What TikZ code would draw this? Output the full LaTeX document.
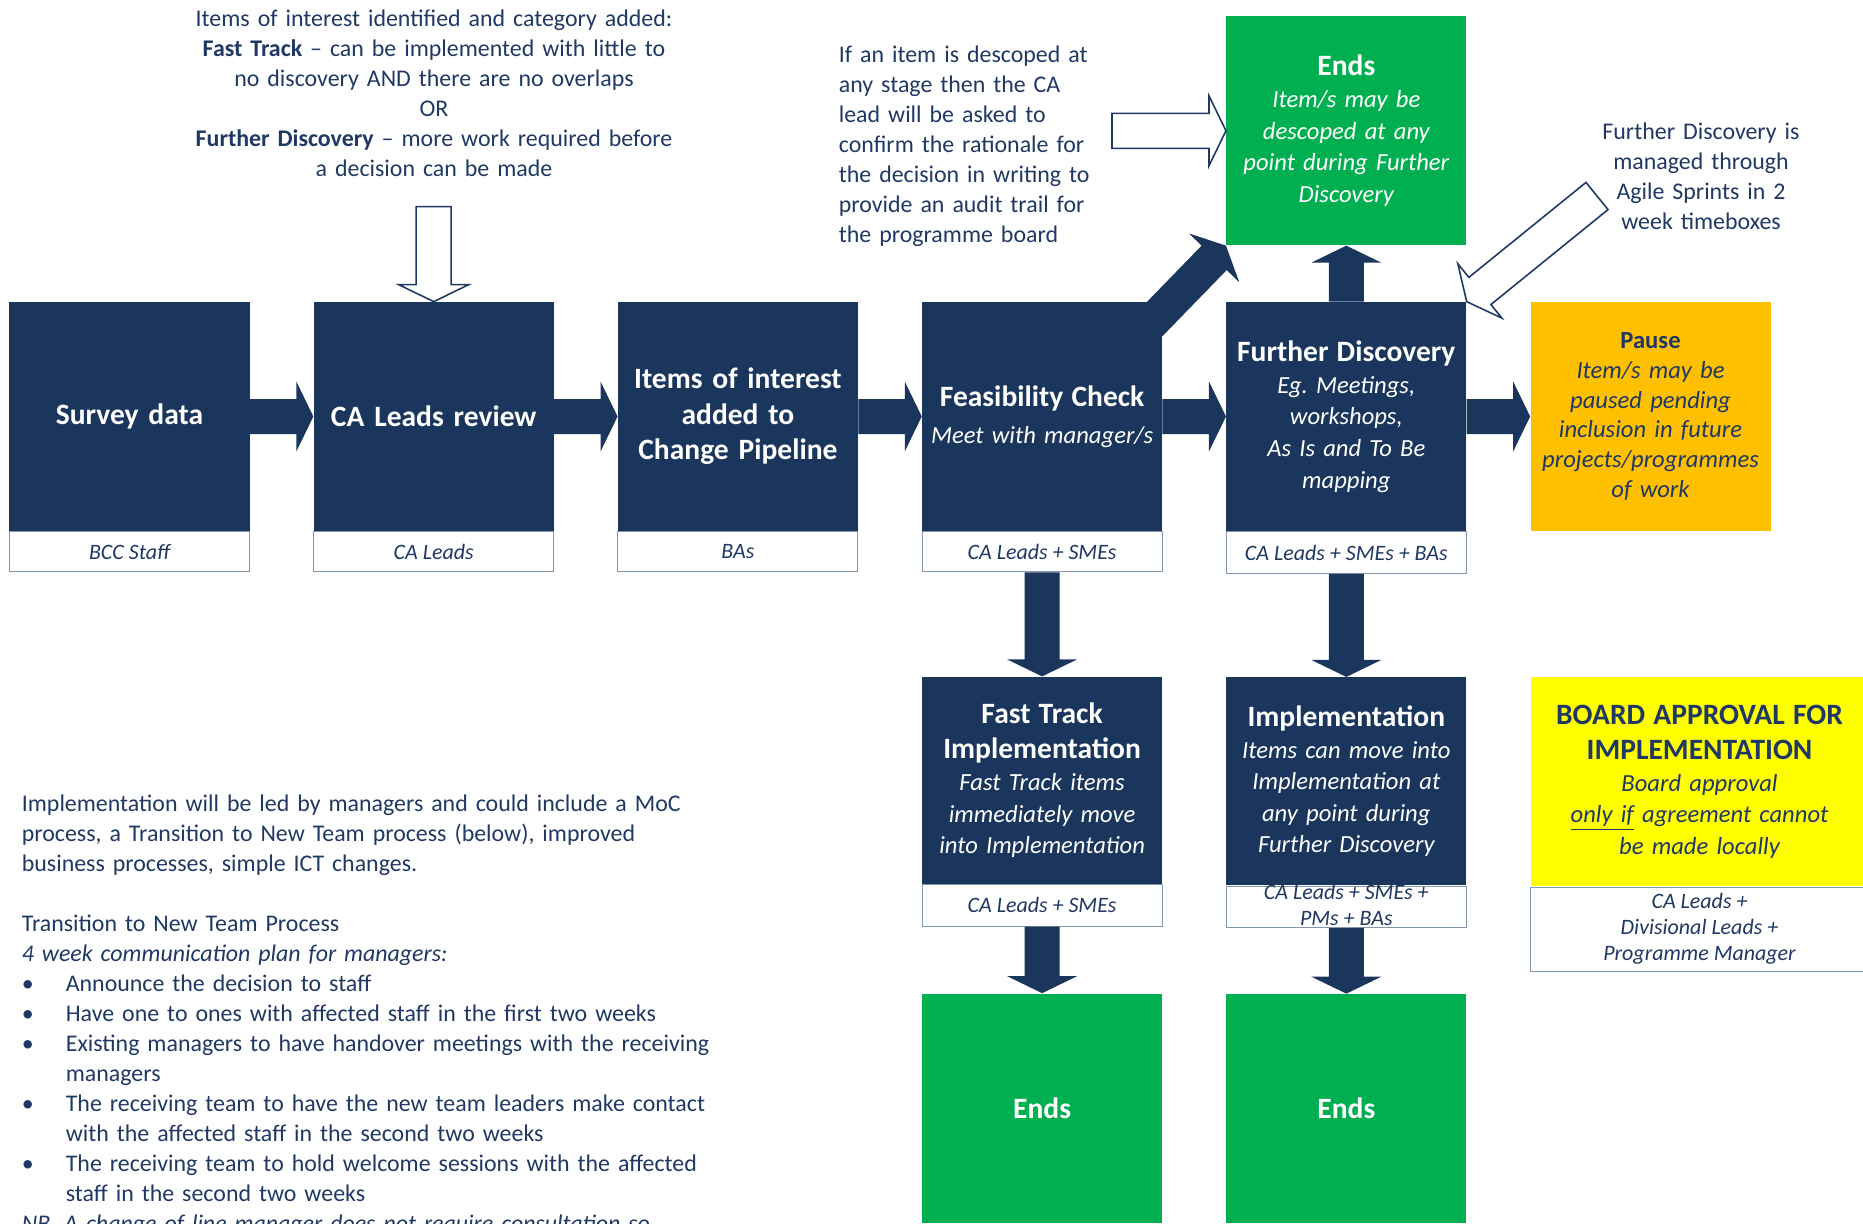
\documentclass[tikz,border=0pt]{standalone}
\usepackage{fontspec}
\setmainfont{Carlito}
\usepackage{tikz}
\usetikzlibrary{positioning, calc}

\definecolor{boxnavy}{HTML}{1B365D}
\definecolor{inknavy}{HTML}{1F3864}
\definecolor{endgreen}{HTML}{00B050}
\definecolor{pauseamber}{HTML}{FFC000}
\definecolor{boardyellow}{HTML}{FFFF00}
\definecolor{whoedge}{HTML}{8497B0}

\newcommand{\titlefont}{\fontsize{16.8}{20.2}\selectfont\bfseries\upshape}
\newcommand{\subfont}{\fontsize{14}{18}\selectfont\itshape}
\newcommand{\pausefont}{\fontsize{14}{16.9}\selectfont\itshape}
\newcommand{\whofont}{\fontsize{12.5}{14.8}\selectfont\itshape}
\newcommand{\notefont}{\fontsize{13.6}{17.05}\selectfont}
\newcommand{\dotitem}{\makebox[0.88cm][l]{\textbullet}}
\newcommand{\wrapitem}{\hspace*{0.88cm}}
\frenchspacing

\tikzstyle{stage} = [rectangle, minimum width=4.8cm, minimum height=4.58cm, text width=4.6cm, align=center, inner sep=0pt, fill=boxnavy, text=white, font=\subfont]
\tikzstyle{who} = [rectangle, minimum width=4.8cm, minimum height=0.8cm, inner sep=0pt, draw=whoedge, line width=0.6pt, fill=white, text=inknavy, font=\whofont]
\tikzstyle{finish} = [stage, fill=endgreen]
\tikzstyle{held} = [stage, fill=pauseamber, text=inknavy, font=\pausefont]
\tikzstyle{approval} = [stage, minimum width=6.76cm, text width=6.5cm, minimum height=4.18cm, fill=boardyellow, text=inknavy]
\tikzstyle{note} = [inner sep=0pt, text=inknavy, font=\notefont]
\tikzstyle{solidarrow} = [fill=boxnavy]
\tikzstyle{hollowarrow} = [fill=white, draw=inknavy, line width=0.9pt, line join=miter]

% block arrow from #2 to #3
\newcommand{\blockarrow}[3][solidarrow]{%
  \coordinate (tipbase) at ($(#3)!0.34cm!(#2)$);
  \path[#1] ($(#2)!0.35cm!90:(#3)$) -- ($(tipbase)!0.35cm!-90:(#2)$) -- ($(tipbase)!0.7cm!-90:(#2)$) -- (#3)
    -- ($(tipbase)!0.7cm!90:(#2)$) -- ($(tipbase)!0.35cm!90:(#2)$) -- ($(#2)!0.35cm!-90:(#3)$) -- cycle;
}

\begin{document}
\begin{tikzpicture}
    \useasboundingbox (0,0) rectangle (37.26,-24.48);

    % Main row
    \node (survey) [stage, font=\titlefont] at (2.59,-8.33) {Survey data};
    \node (review) [stage, font=\titlefont, right=1.27cm of survey] {CA Leads review};
    \node (pipeline) [stage, font=\titlefont, right=1.27cm of review] {Items of interest\\added to\\Change Pipeline};
    \node (feasible) [stage, right=1.27cm of pipeline] {{\titlefont Feasibility Check}\\[3pt]Meet with manager/s};
    \node (discovery) [stage, right=1.27cm of feasible] {{\titlefont Further Discovery}\\Eg. Meetings,\\workshops,\\As Is and To Be\\mapping};
    \node (pause) [held, right=1.27cm of discovery] {{\bfseries\upshape Pause}\\Item/s may be\\paused pending\\inclusion in future\\projects/programmes\\of work};

    % Who is involved
    \node (surveywho) [who, below=0cm of survey] {BCC Staff};
    \node (reviewwho) [who, below=0cm of review] {CA Leads};
    \node (pipelinewho) [who, below=0cm of pipeline] {BAs};
    \node (feasiblewho) [who, below=0cm of feasible] {CA Leads + SMEs};
    \node (discoverywho) [who, minimum height=0.83cm, below=0cm of discovery] {CA Leads + SMEs + BAs};

    % Outcomes
    \node (descoped) [finish, above=1.12cm of discovery] {{\titlefont Ends}\\Item/s may be\\descoped at any\\point during Further\\Discovery};
    \node (fasttrack) [stage, minimum height=4.14cm, below=2.08cm of feasiblewho] {{\titlefont Fast Track\\[2pt]Implementation}\\Fast Track items\\immediately move\\into Implementation};
    \node (fasttrackwho) [who, minimum height=0.83cm, below=0cm of fasttrack] {CA Leads + SMEs};
    \node (implement) [stage, minimum height=4.16cm, below=2.06cm of discoverywho] {{\titlefont Implementation}\\Items can move into\\Implementation at\\any point during\\Further Discovery};
    \node (implementwho) [who, minimum height=0.83cm, below=0cm of implement] {\smash{\raisebox{-3pt}{\begin{tabular}{@{}c@{}}CA Leads + SMEs +\\PMs + BAs\end{tabular}}}};
    \node (board) [approval, anchor=north west] at (pause.west |- implement.north) {{\titlefont BOARD APPROVAL FOR\\[2pt]IMPLEMENTATION}\\Board approval\\\underline{only if} agreement cannot\\be made locally};
    \node (boardwho) [who, minimum width=6.76cm, minimum height=1.68cm, align=center, below=0cm of board] {CA Leads +\\Divisional Leads +\\Programme Manager};
    \node (fastend) [finish, below=1.33cm of fasttrackwho] {{\titlefont Ends}};
    \node (implend) [finish, below=1.31cm of implementwho] {{\titlefont Ends}};

    % Notes
    \node (sortnote) [note, text width=11cm, align=center] at (8.68,-1.86) {Items of interest identified and category added:\\\textbf{Fast Track} -- can be implemented with little to\\no discovery AND there are no overlaps\\OR\\\textbf{Further Discovery} -- more work required before\\a decision can be made};
    \node (descopenote) [note, text width=5.6cm, align=left, anchor=west] at (16.77,-2.92) {If an item is descoped at\\any stage then the CA\\lead will be asked to\\confirm the rationale for\\the decision in writing to\\provide an audit trail for\\the programme board};
    \node (agilenote) [note, text width=4.6cm, align=center] at (34.02,-3.53) {Further Discovery is\\managed through\\Agile Sprints in 2\\week timeboxes};
    \node (rollout) [note, text width=14.8cm, align=left, anchor=north west] at (0.43,-15.9) {Implementation will be led by managers and could include a MoC\\process, a Transition to New Team process (below), improved\\business processes, simple ICT changes.\\[17.05pt]Transition to New Team Process\\\textit{4 week communication plan for managers:}\\\dotitem Announce the decision to staff\\\dotitem Have one to ones with affected staff in the first two weeks\\\dotitem Existing managers to have handover meetings with the receiving\\\wrapitem managers\\\dotitem The receiving team to have the new team leaders make contact\\\wrapitem with the affected staff in the second two weeks\\\dotitem The receiving team to hold welcome sessions with the affected\\\wrapitem staff in the second two weeks\\\textit{NB. A change of line manager does not require consultation so}};

    % Arrows
    \blockarrow{survey.east}{review.west}
    \blockarrow{review.east}{pipeline.west}
    \blockarrow{pipeline.east}{feasible.west}
    \blockarrow{feasible.east}{discovery.west}
    \blockarrow{discovery.east}{pause.west}
    \blockarrow{discovery.north}{descoped.south}
    \coordinate (jump) at ($(feasible.north east)+(-0.4,-0.6)$);
    \blockarrow{jump}{descoped.south west}
    \blockarrow{feasiblewho.south}{fasttrack.north}
    \blockarrow{discoverywho.south}{implement.north}
    \blockarrow{fasttrackwho.south}{fastend.north}
    \blockarrow{implementwho.south}{implend.north}

    % Hollow arrows from the notes
    \coordinate (sortout) at ($(review.north)+(0,1.9)$);
    \blockarrow[hollowarrow]{sortout}{review.north}
    \coordinate (descopeout) at ($(descoped.west)+(-2.28,0)$);
    \blockarrow[hollowarrow]{descopeout}{descoped.west}
    \coordinate (agileout) at (31.94,-3.92);
    \blockarrow[hollowarrow]{agileout}{discovery.north east}
\end{tikzpicture}
\end{document}
